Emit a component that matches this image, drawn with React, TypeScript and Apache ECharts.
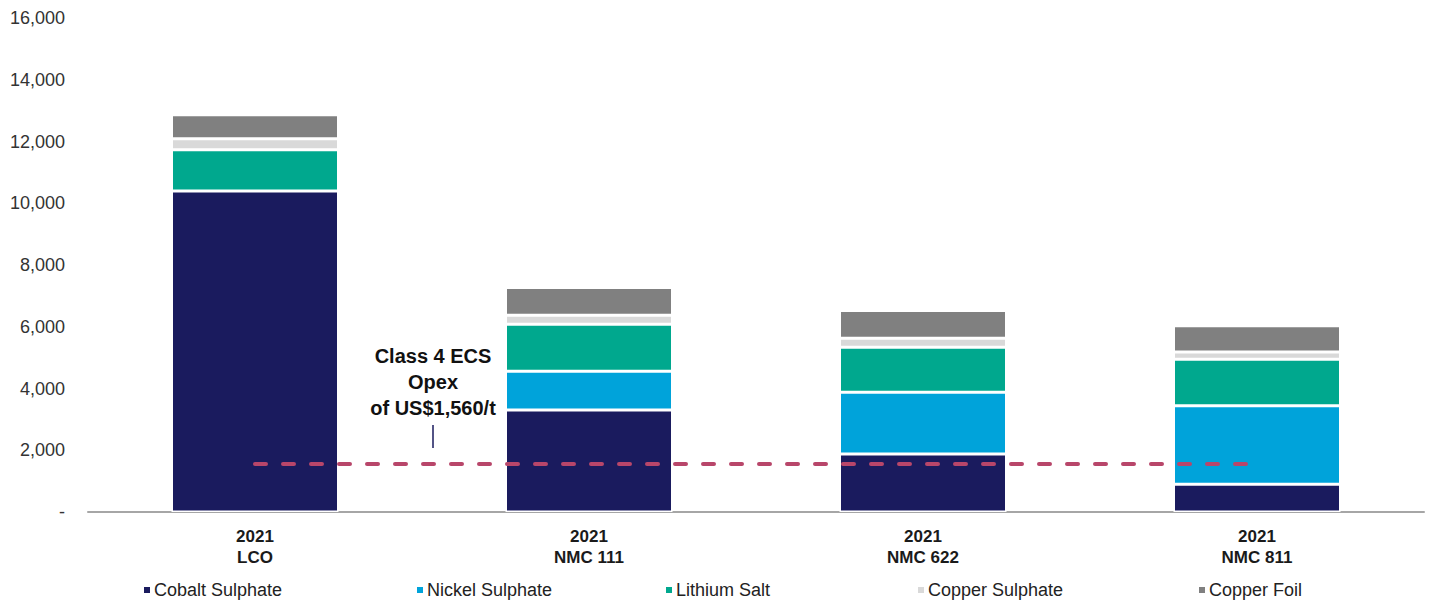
import React, { useEffect, useRef } from "react";
import * as echarts from "echarts";

const categories = ["2021\nLCO", "2021\nNMC 111", "2021\nNMC 622", "2021\nNMC 811"];
const cobaltSulphate = [10400, 3300, 1880, 900];
const nickelSulphate = [0, 1260, 2000, 2540];
const lithiumSalt = [1330, 1520, 1460, 1510];
const copperSulphate = [360, 290, 290, 230];
const copperFoil = [780, 900, 900, 850];
const opexLevel = 1560;
const annotationText = "Class 4 ECS\nOpex\nof US$1,560/t";

const seriesNames = ["Cobalt Sulphate", "Nickel Sulphate", "Lithium Salt", "Copper Sulphate", "Copper Foil"];
const seriesColors = ["#1a1b5e", "#00a3da", "#00a88e", "#d9d9d9", "#808080"];
const seriesValues = [cobaltSulphate, nickelSulphate, lithiumSalt, copperSulphate, copperFoil];
const legendLefts = [142, 415, 664, 916, 1197];

const FONT = "'Liberation Sans', Arial, sans-serif";

export default function App() {
  const ref = useRef<HTMLDivElement>(null);
  useEffect(() => {
    document.body.style.margin = "0";
    const chart = echarts.init(ref.current!, null, { renderer: "svg" });
    const series: any[] = seriesNames.map((name, i) => ({
      name,
      type: "bar",
      stack: "total",
      barWidth: "50%",
      data: seriesValues[i],
      itemStyle: { color: seriesColors[i], borderColor: "#ffffff", borderWidth: 1.5 },
      emphasis: { disabled: true },
    }));
    series[0].markLine = {
      silent: true,
      symbol: "none",
      label: { show: false },
      emphasis: { disabled: true },
      lineStyle: { color: "#b8466a", width: 4, type: [11, 17], cap: "round", opacity: 1 },
      data: [[{ coord: [0, opexLevel] }, { coord: [3, opexLevel] }]],
    };
    chart.setOption({
      animation: false,
      textStyle: { fontFamily: FONT },
      grid: { left: 88, right: 9, top: 18, bottom: 95 },
      legend: seriesNames.map((name, i) => ({
        data: [name],
        left: legendLefts[i],
        top: 581,
        padding: 0,
        itemWidth: 8,
        itemHeight: 8,
        icon: "rect",
        selectedMode: false,
        textStyle: { fontSize: 18, color: "#222", fontFamily: FONT, padding: [0, 0, 0, -2] },
      })),
      xAxis: {
        type: "category",
        data: categories,
        axisLine: { lineStyle: { color: "#a6a6a6", width: 2 } },
        axisTick: { show: false },
        axisLabel: {
          margin: 14,
          fontSize: 17,
          fontWeight: "bold",
          color: "#1a1a1a",
          lineHeight: 21,
          fontFamily: FONT,
        },
      },
      yAxis: {
        type: "value",
        min: 0,
        max: 16000,
        interval: 2000,
        splitLine: { show: false },
        axisLine: { show: false },
        axisTick: { show: false },
        axisLabel: {
          margin: 23,
          fontSize: 18,
          color: "#333",
          fontFamily: FONT,
          formatter: (v: number) => (v === 0 ? "-" : v.toLocaleString("en-US")),
        },
      },
      graphic: [
        {
          type: "text",
          x: 433,
          y: 343,
          style: {
            text: annotationText,
            textAlign: "center",
            fontSize: 20,
            fontWeight: "bold",
            lineHeight: 26,
            fill: "#111",
            fontFamily: FONT,
          },
        },
        {
          type: "line",
          shape: { x1: 433, y1: 425, x2: 433, y2: 448 },
          style: { stroke: "#1a1b5e", lineWidth: 1.5 },
        },
      ],
      series,
    });
    return () => chart.dispose();
  }, []);
  return <div ref={ref} style={{ width: 1433, height: 607 }} />;
}
